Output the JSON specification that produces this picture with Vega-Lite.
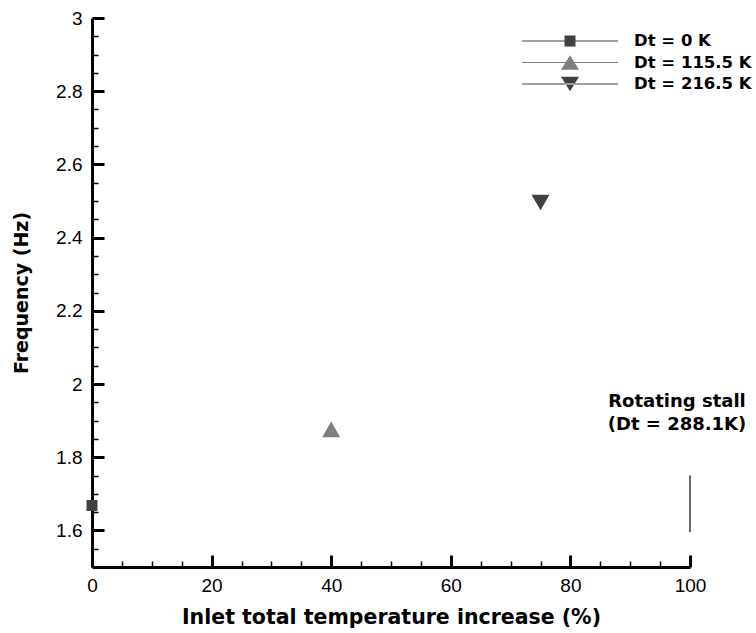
{
  "$schema": "https://vega.github.io/schema/vega-lite/v6.json",
  "autosize": {"type": "none"},
  "padding": {"left": 92, "top": 18, "right": 66, "bottom": 66},
  "width": 598,
  "height": 549,
  "background": "white",
  "config": {
    "font": "Liberation Sans",
    "view": {"stroke": null},
    "axis": {"grid": false, "labelFlush": false, "domainColor": "black", "tickColor": "black", "labelColor": "black", "titleColor": "black", "labelFont": "Liberation Sans", "titleFont": "DejaVu Sans"}
  },
  "datasets": {
    "points": [
      {"increase": 0, "frequency": 1.668, "series": "Dt = 0 K"},
      {"increase": 40, "frequency": 1.876, "series": "Dt = 115.5 K"},
      {"increase": 75, "frequency": 2.496, "series": "Dt = 216.5 K"}
    ],
    "notes": [
      {"increase": 100, "frequency": 1.938, "label": "Rotating stall"},
      {"increase": 100, "frequency": 1.873, "label": "(Dt = 288.1K)"}
    ],
    "stall": [
      {"increase": 100, "low": 1.595, "high": 1.75}
    ]
  },
  "resolve": {"axis": {"x": "independent", "y": "independent"}},
  "layer": [
    {
      "data": {"name": "points"},
      "mark": {"type": "point", "filled": true, "opacity": 0, "size": 400},
      "encoding": {
        "x": {"field": "increase", "type": "quantitative", "scale": {"domain": [0, 100], "nice": false, "zero": false}, "axis": null},
        "y": {"field": "frequency", "type": "quantitative", "scale": {"domain": [1.5, 3], "nice": false, "zero": false}, "axis": null},
        "color": {"field": "series", "type": "nominal",
          "scale": {"domain": ["Dt = 0 K", "Dt = 115.5 K", "Dt = 216.5 K"], "range": ["#404040", "#7f7f7f", "#404040"]},
          "legend": {"title": null, "orient": "none", "legendX": 468, "legendY": 13, "padding": 0, "symbolSize": 400, "symbolOpacity": 1, "symbolStrokeWidth": 0, "labelFont": "DejaVu Sans", "labelFontSize": 16.5, "labelFontWeight": "bold", "labelColor": "black", "labelOffset": 54, "rowPadding": 2.5}},
        "shape": {"field": "series", "type": "nominal",
          "scale": {"domain": ["Dt = 0 K", "Dt = 115.5 K", "Dt = 216.5 K"], "range": [
            "M-4.8,-0.05L4.8,-0.05L4.8,0.05L-4.8,0.05ZM-0.55,-0.55L0.55,-0.55L0.55,0.55L-0.55,0.55Z",
            "M-4.8,-0.05L4.8,-0.05L4.8,0.05L-4.8,0.05ZM0,-0.72L0.9,0.72L-0.9,0.72Z",
            "M-4.8,-0.05L4.8,-0.05L4.8,0.05L-4.8,0.05ZM0,0.72L0.9,-0.72L-0.9,-0.72Z"]},
          "legend": {"title": null, "orient": "none", "legendX": 468, "legendY": 13, "padding": 0, "symbolSize": 400, "symbolOpacity": 1, "symbolStrokeWidth": 0, "labelFont": "DejaVu Sans", "labelFontSize": 16.5, "labelFontWeight": "bold", "labelColor": "black", "labelOffset": 54, "rowPadding": 2.5}}
      }
    },
    {
      "data": {"name": "points"},
      "transform": [{"filter": "datum.series === 'Dt = 0 K'"}],
      "mark": {"type": "point", "filled": true, "opacity": 1, "size": 400, "color": "#404040", "shape": "M-0.55,-0.55L0.55,-0.55L0.55,0.55L-0.55,0.55Z"},
      "encoding": {
        "x": {"field": "increase", "type": "quantitative",
          "axis": {"orient": "bottom", "values": [5,10,15,25,30,35,45,50,55,65,70,75,85,90,95], "labels": false, "domain": false, "tickSize": -6, "tickWidth": 1.5, "title": null}},
        "y": {"field": "frequency", "type": "quantitative",
          "axis": {"orient": "left", "values": [1.55,1.65,1.7,1.75,1.85,1.9,1.95,2.05,2.1,2.15,2.25,2.3,2.35,2.45,2.5,2.55,2.65,2.7,2.75,2.85,2.9,2.95], "labels": false, "domain": false, "tickSize": -6, "tickWidth": 1.5, "title": null}}
      }
    },
    {
      "data": {"name": "points"},
      "transform": [{"filter": "datum.series === 'Dt = 115.5 K'"}],
      "mark": {"type": "point", "filled": true, "opacity": 1, "size": 400, "color": "#7f7f7f", "shape": "M0,-0.78L0.9,0.78L-0.9,0.78Z"},
      "encoding": {
        "x": {"field": "increase", "type": "quantitative", "axis": null},
        "y": {"field": "frequency", "type": "quantitative", "axis": null}
      }
    },
    {
      "data": {"name": "points"},
      "transform": [{"filter": "datum.series === 'Dt = 216.5 K'"}],
      "mark": {"type": "point", "filled": true, "opacity": 1, "size": 400, "color": "#404040", "shape": "M0,0.78L0.9,-0.78L-0.9,-0.78Z"},
      "encoding": {
        "x": {"field": "increase", "type": "quantitative", "axis": null},
        "y": {"field": "frequency", "type": "quantitative", "axis": null}
      }
    },
    {
      "data": {"name": "notes"},
      "mark": {"type": "text", "font": "DejaVu Sans", "fontSize": 18, "fontWeight": "bold", "color": "black", "align": "center", "baseline": "alphabetic", "dx": -13},
      "encoding": {
        "x": {"field": "increase", "type": "quantitative",
          "axis": {"orient": "bottom", "values": [0,20,40,60,80,100], "tickSize": -12, "tickWidth": 3, "domainWidth": 3, "labelFontSize": 19, "labelPadding": 21, "title": "Inlet total temperature increase (%)", "titleFontSize": 20.5, "titleFontWeight": "bold", "titlePadding": 12}},
        "y": {"field": "frequency", "type": "quantitative",
          "axis": {"orient": "left", "values": [1.6,1.8,2,2.2,2.4,2.6,2.8,3], "format": "~g", "tickSize": -12, "tickWidth": 3, "domainWidth": 3, "labelFontSize": 19, "labelPadding": 22, "title": "Frequency (Hz)", "titleFontSize": 19, "titleFontWeight": "bold", "titlePadding": 24}},
        "text": {"field": "label"}
      }
    },
    {
      "data": {"name": "stall"},
      "mark": {"type": "rule", "color": "black", "strokeWidth": 1.2},
      "encoding": {
        "x": {"field": "increase", "type": "quantitative", "axis": null},
        "y": {"field": "low", "type": "quantitative", "axis": null},
        "y2": {"field": "high"}
      }
    }
  ]
}
